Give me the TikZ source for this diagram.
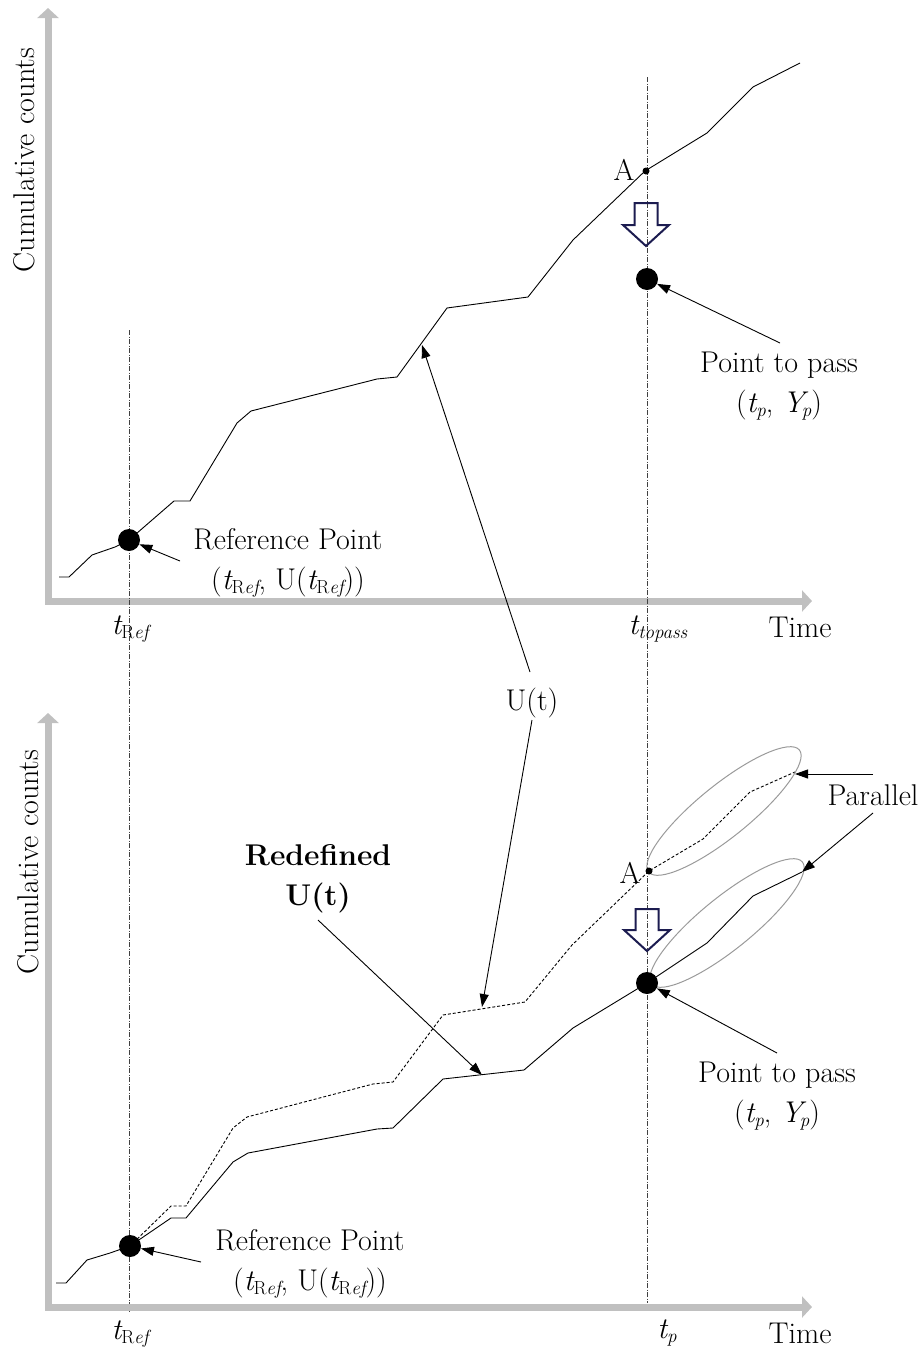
\documentclass[tikz,border=0pt]{standalone}
\usetikzlibrary{arrows.meta}
\definecolor{axisgray}{HTML}{C0C0C0}
\definecolor{navyarrow}{HTML}{1C1C50}
\definecolor{ellgray}{HTML}{9A9A9A}
\newcommand\lowsub[1]{\raisebox{-0.35ex}{\fontsize{19}{19}\selectfont #1}}
\newcommand\tref{{\itshape t}\lowsub{R{\itshape ef}}}
\newcommand\tpp{{\itshape t}\lowsub{{\itshape p}}}
\newcommand\ypp{{\itshape Y}\kern-2.5pt\lowsub{{\itshape p}}}
\tikzset{
  lbl/.style={font=\fontsize{30}{40}\selectfont, inner sep=0pt, align=center},
  axisline/.style={draw=axisgray, line width=7pt, line join=miter,
    {Triangle[length=10pt,width=21pt]}-{Triangle[length=10pt,width=21pt]}},
  curve/.style={draw=black, line width=0.9pt, line join=round},
  dcurve/.style={curve, dash pattern=on 3pt off 2pt},
  guide/.style={draw=black!75, line width=0.7pt, dash pattern=on 5pt off 1.5pt on 1pt off 1.5pt},
  bigdot/.style={circle, fill=black, minimum size=22pt, inner sep=0pt},
  smalldot/.style={circle, fill=black, minimum size=7pt, inner sep=0pt},
  conn/.style={draw=black, line width=0.9pt, -{Triangle[length=13pt,width=9pt]}},
  hollow/.style={draw=navyarrow, line width=2pt, line join=miter},
  ell/.style={draw=ellgray, line width=1pt}
}
\begin{document}
\begin{tikzpicture}[x=1pt,y=-1pt]
\useasboundingbox (0,0) rectangle (919,1347);
% ---------------- top panel ----------------
\draw[axisline] (48,8) -- (48,601) -- (812,601);
\node[lbl, rotate=90] (ylab1) at (24,160) {Cumulative counts};
\draw[guide] (129,330) -- (129,1312);
\draw[guide] (647,77) -- (647,1303);
\draw[curve] (59,577) -- (69,577) -- (92,555) -- (115,547) -- (129,540) -- (174,501) -- (190,501)
  -- (237,423) -- (251,411) -- (377,379) -- (397,377) -- (447,308) -- (528,297) -- (573,240)
  -- (645,171) -- (707,133) -- (753,87) -- (800,63);
\node[bigdot] (ref1) at (129,540) {};
\node[smalldot] (A1) at (646,171) {};
\node[lbl] (Alab1) at (624,170) {A};
\draw[hollow, shift={(646,203)}] (-11.5,0) -- (11.5,0) -- (11.5,22) -- (23,22) -- (0,43) -- (-23,22) -- (-11.5,22) -- cycle;
\node[bigdot] (pp1) at (647,279) {};
\node[lbl] (pplab1) at (779,386) {Point to pass\\(\tpp, \ypp)};
\node[lbl] (reflab1) at (288,563) {Reference Point\\(\tref, U(\tref))};
\node[lbl] (tref1) at (130,629) {\tref};
\node[lbl] (ttp1) at (658,629) {{\itshape t}\lowsub{{\itshape topass}}};
\node[lbl] (time1) at (800,627) {Time};
\coordinate (refs1) at (180,561);
\coordinate (pps1) at (780,343);
\draw[conn] (refs1) -- (ref1);
\draw[conn] (pps1) -- (pp1);
% ---------------- U(t) label ----------------
\node[lbl] (ut) at (532,703) {U(t)};
\coordinate (utop) at (422,345);
\coordinate (ubot) at (482,1007);
\coordinate (uts) at (530,672);
\coordinate (utb) at (532,720);
\draw[conn] (uts) -- (utop);
\draw[conn] (utb) -- (ubot);
% ---------------- bottom panel ----------------
\draw[axisline] (48,713) -- (48,1307) -- (812,1307);
\node[lbl, rotate=90] (ylab2) at (28,862) {Cumulative counts};
\draw[curve] (56,1283) -- (66,1283) -- (87,1260) -- (110,1253) -- (130,1246) -- (171,1218) -- (186,1218)
  -- (233,1162) -- (248,1153) -- (377,1129) -- (393,1128) -- (443,1079) -- (524,1070) -- (573,1028)
  -- (647,983) -- (707,943) -- (753,896) -- (802,872);
\draw[dcurve] (130,1246) -- (171,1206) -- (186,1206) -- (233,1128) -- (247,1117) -- (373,1084)
  -- (393,1082) -- (443,1015) -- (525,1002) -- (572,945) -- (649,871) -- (703,839) -- (750,792) -- (795,772);
\draw[ell, rotate around={39:(724,811)}] (724,811) ellipse [x radius=97pt, y radius=26pt];
\draw[ell, rotate around={39:(727,923)}] (727,923) ellipse [x radius=97pt, y radius=26pt];
\node[bigdot] (ref2) at (130,1246) {};
\node[smalldot] (A2) at (649,871) {};
\node[lbl] (Alab2) at (630,873) {A};
\draw[hollow, shift={(647,909)}] (-11.5,0) -- (11.5,0) -- (11.5,21) -- (23,21) -- (0,42) -- (-23,21) -- (-11.5,21) -- cycle;
\node[bigdot] (pp2) at (647,983) {};
\node[lbl] (pplab2) at (777,1096) {Point to pass\\(\tpp, \ypp)};
\node[lbl] (reflab2) at (310,1264) {Reference Point\\(\tref, U(\tref))};
\node[lbl] (tref2) at (130,1334) {\tref};
\node[lbl] (ttp2) at (667,1333) {\tpp};
\node[lbl] (time2) at (800,1333) {Time};
\node[lbl] (redef) at (318,879) {\textbf{Redefined}\\\textbf{U(t)}};
\node[lbl] (par) at (873,795) {Parallel};
\coordinate (refs2) at (201,1262);
\coordinate (pps2) at (777,1053);
\coordinate (reds) at (318,920);
\coordinate (rede) at (482,1075);
\coordinate (p1s) at (873,774);
\coordinate (p1e) at (795,774);
\coordinate (p2s) at (873,813);
\coordinate (p2e) at (802,872);
\draw[conn] (refs2) -- (ref2);
\draw[conn] (pps2) -- (pp2);
\draw[conn] (reds) -- (rede);
\draw[conn] (p1s) -- (p1e);
\draw[conn] (p2s) -- (p2e);
\end{tikzpicture}
\end{document}
